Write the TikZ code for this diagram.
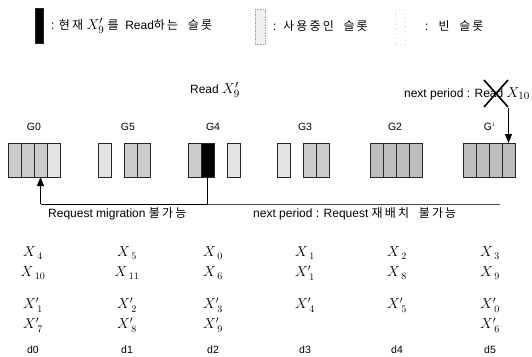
\documentclass[tikz,border=0pt]{standalone}
\usepackage{fontspec}
\setmainfont{Liberation Sans}
\newfontfamily\kr{Noto Sans CJK KR}[LetterSpace=18]
\usetikzlibrary{arrows.meta}
\tikzset{
  slotbox/.style={draw=black!85, line width=0.6pt, minimum width=13pt, minimum height=34pt, inner sep=0pt, outer sep=0pt},
  lite/.style={slotbox, fill=gray!22},
  mid/.style={slotbox, fill=gray!40},
  dark/.style={slotbox, fill=gray!52},
  cur/.style={slotbox, fill=black},
  glabel/.style={font=\fontsize{10.5}{12}\selectfont, inner sep=1pt},
  txt/.style={font=\fontsize{12}{14}\selectfont, inner sep=1pt},
  xlab/.style={font=\fontsize{14}{15}\selectfont, inner sep=1pt},
  dlab/.style={font=\fontsize{10.5}{12}\selectfont, inner sep=1pt},
  conn/.style={line width=0.9pt},
  tip/.style={-{Triangle[length=9pt,width=7pt]}}
}
\begin{document}
\begin{tikzpicture}[x=1pt,y=-1pt]
\useasboundingbox (0,0) rectangle (532,356);
% legend
\node[cur, minimum width=8pt, minimum height=35pt] (lg1) at (39,26) {};
\node[txt, anchor=west] (lt1) at (50,26) {: {\kr 현재} {\fontsize{15}{16}\selectfont $X'_{9}$} {\kr 를}\ \ Read{\kr 하는 \ 슬롯}};
\node[slotbox, fill=gray!12, draw=gray!70, densely dotted, minimum width=10pt, minimum height=35pt] (lg2) at (260,27) {};
\node[txt, anchor=west] (lt2) at (272,26) {:\ \ {\kr 사용중인 \ 슬롯}};
\node[slotbox, draw=gray!35, loosely dotted, minimum width=10pt, minimum height=35pt] (lg3) at (400,27) {};
\node[txt, anchor=west] (lt3) at (424,26) {:\ \ \ {\kr 빈 \ 슬롯}};
% read labels
\node[txt] (read9) at (215,90) {Read {\fontsize{15}{16}\selectfont $X'_{9}$}};
\node[txt, anchor=east] (read10) at (531,94) {next period : Read {\fontsize{15}{16}\selectfont $X_{10}$}};
\draw[line width=1.6pt] (484,80) -- (508,107);
\draw[line width=1.6pt] (508,80) -- (484,107);
% group labels
\node[glabel] (lG0) at (34,127) {G0};
\node[glabel] (lG5) at (128,127) {G5};
\node[glabel] (lG4) at (213,127) {G4};
\node[glabel] (lG3) at (305,127) {G3};
\node[glabel] (lG2) at (395,127) {G2};
\node[glabel] (lG1) at (490,127) {G$^{\scriptscriptstyle 1}$};
% G0
\node[mid] (g0a) at (14.5,160) {};
\node[mid] (g0b) at (27.5,160) {};
\node[mid] (g0c) at (40.5,160) {};
\node[lite] (g0d) at (53.5,160) {};
% G5
\node[lite] (g5a) at (104.5,160) {};
\node[mid] (g5c) at (130.5,160) {};
\node[mid] (g5d) at (143.5,160) {};
% G4
\node[mid] (g4a) at (194.5,160) {};
\node[cur] (g4b) at (207.5,160) {};
\node[lite] (g4d) at (233.5,160) {};
% G3
\node[lite] (g3a) at (283.5,160) {};
\node[mid] (g3c) at (309.5,160) {};
\node[mid] (g3d) at (322.5,160) {};
% G2
\node[dark] (g2a) at (376.5,160) {};
\node[dark] (g2b) at (389.5,160) {};
\node[dark] (g2c) at (402.5,160) {};
\node[dark] (g2d) at (415.5,160) {};
% G1
\node[dark] (g1a) at (469.5,160) {};
\node[dark] (g1b) at (482.5,160) {};
\node[dark] (g1c) at (495.5,160) {};
\node[dark] (g1d) at (508.5,160) {};
% arrows
\coordinate (atop) at (508.5,108);
\draw[conn, tip] (atop) -- (g1d.north);
\coordinate (lineR) at (500,204);
\coordinate (lineL) at (g0c.south |- lineR);
\draw[conn] (g4b.south) -- (g4b.south |- lineR);
\draw[conn] (lineL) -- (g4b.south |- lineR);
\draw[line width=0.7pt, black!70] (g4b.south |- lineR) -- (lineR);
\draw[conn, tip] (lineL) -- (g0c.south);
\node[txt, anchor=west] (req1) at (47,214) {Request migration {\kr 불가능}};
\node[txt, anchor=west] (req2) at (252,214) {next period : Request {\kr 재배치 \ 불가능}};
% grid
\foreach \cx/\a/\b/\c/\d/\lab [count=\i] in {
  33/4/10/1/7/d0, 127/5/11/2/8/d1, 213/0/6/3/9/d2, 305/1/1/4//d3, 397/2/8/5//d4, 490/3/9/0/6/d5}{
  \node[xlab] (r1c\i) at (\cx,253) {$X_{\;\a}$};
  \ifnum\i=4
    \node[xlab] (r2c\i) at (\cx,273) {$X'_{\;\b}$};
  \else
    \node[xlab] (r2c\i) at (\cx,273) {$X_{\;\b}$};
  \fi
  \node[xlab] (r3c\i) at (\cx,305) {$X'_{\;\c}$};
  \if\relax\detokenize\expandafter{\d}\relax\else
    \node[xlab] (r4c\i) at (\cx,325) {$X'_{\;\d}$};
  \fi
  \node[dlab] (dl\i) at (\cx,350) {\lab};
}
\end{tikzpicture}
\end{document}
